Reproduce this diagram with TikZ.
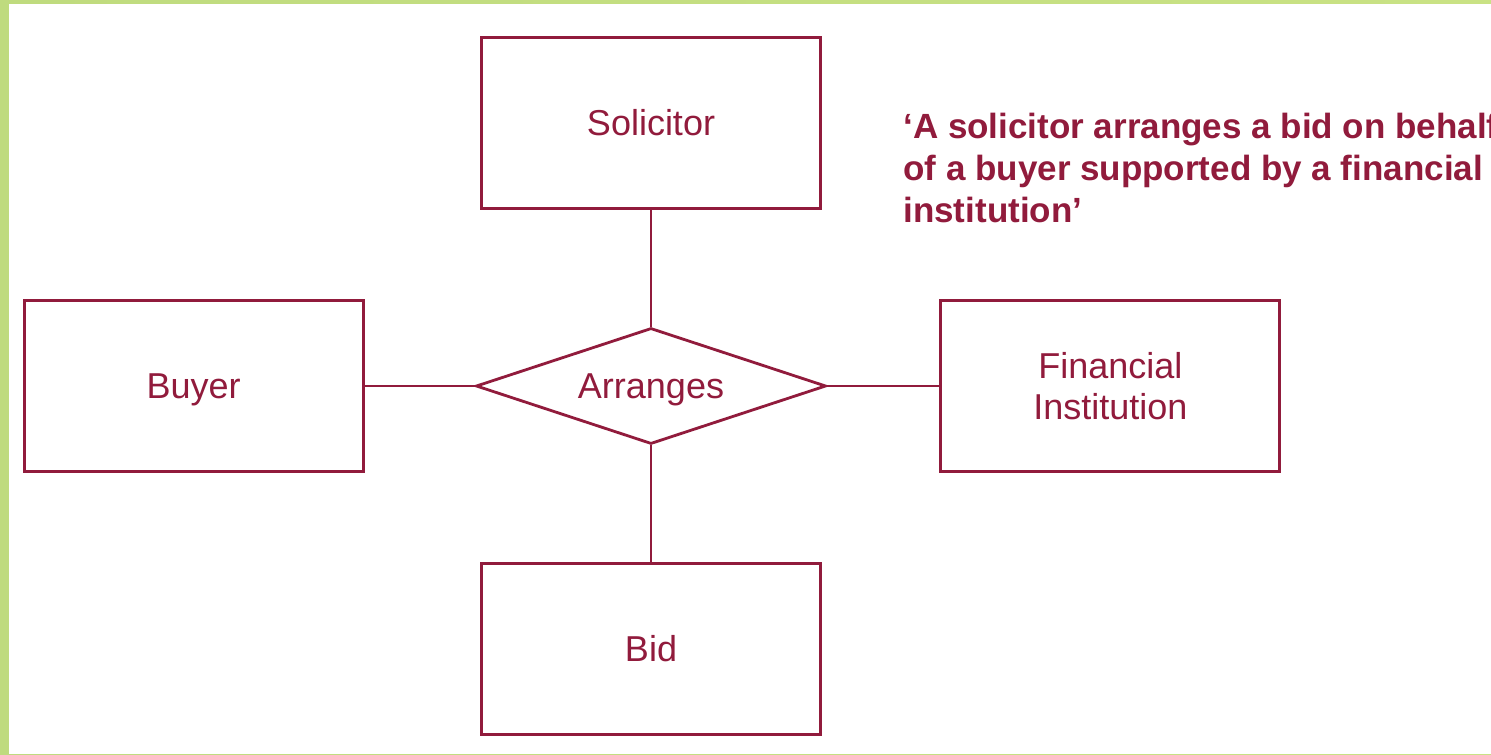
\documentclass[tikz,border=0pt]{standalone}
\usepackage{fontspec}
\setmainfont{Liberation Sans}
\usepackage{tikz}
\usetikzlibrary{shapes.geometric,positioning}
\definecolor{wine}{RGB}{145, 27, 60}
\definecolor{leaf}{RGB}{191, 219, 126}
\definecolor{leaflight}{RGB}{201, 226, 132}
\tikzstyle{entity} = [rectangle, draw=wine, line width=1.4pt, fill=white, text=wine, align=center, font=\fontsize{18}{20.5}\selectfont, minimum width=169.5pt, minimum height=85.5pt, inner sep=0pt]
\tikzstyle{relation} = [diamond, draw=wine, line width=1.4pt, fill=white, text=wine, font=\fontsize{18}{20.5}\selectfont, aspect=3, minimum width=175pt, minimum height=58pt, inner sep=0pt]
\tikzstyle{oneline} = [text height=12.5pt, text depth=0pt]
\tikzstyle{quote} = [text=wine, align=left, font=\fontsize{17.5}{21}\selectfont\bfseries, inner sep=0pt]
\tikzstyle{link} = [draw=wine, line width=1.4pt]

\begin{document}
\begin{tikzpicture}[x=0.5pt, y=-0.5pt]

% frame ==================================
\useasboundingbox (0,0) rectangle (1491,754);
\clip (0,0) rectangle (1491,754);
\shade[left color=leaf, right color=leaflight] (0,0) rectangle (1491,754);
\fill[white] (9,4) rectangle (1491,754);

% relationship
\node[relation, oneline] (arranges) at (651,386) {Arranges};

% entities
\node[entity, oneline, above=58.5pt of arranges] (solicitor) {Solicitor};
\node[entity, oneline, left=55pt of arranges] (buyer) {Buyer};
\node[entity, right=56pt of arranges] (institution) {Financial\\Institution};
\node[entity, oneline, below=58.5pt of arranges] (bid) {Bid};

% sentence
\node[quote, anchor=north west] (sentence) at (903,113) {‘A solicitor arranges a bid on behalf\\of a buyer supported by a financial\\institution’};

%edges
\path[link] (solicitor) -- (arranges);
\path[link] (buyer) -- (arranges);
\path[link] (institution) -- (arranges);
\path[link] (bid) -- (arranges);

\end{tikzpicture}
\end{document}
